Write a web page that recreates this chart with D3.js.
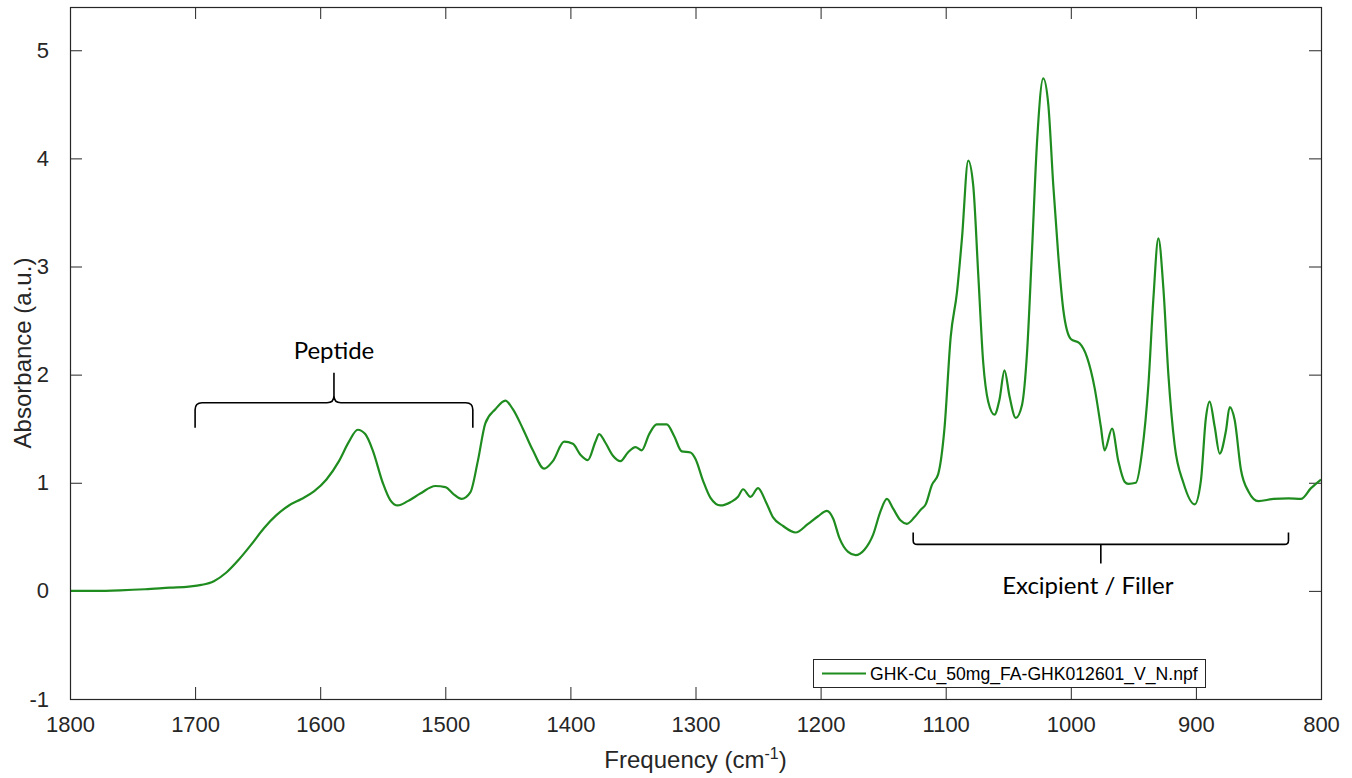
<!DOCTYPE html>
<html>
<head>
<meta charset="utf-8">
<script src="https://cdn.jsdelivr.net/npm/d3@7"></script>
<style>
  body { margin: 0; background: #fff; }
  .tick text { font-family: "Liberation Sans", Arial, sans-serif; font-size: 22px; fill: #262626; }
  .note { font-family: Lato, "Open Sans", sans-serif; font-size: 24px; fill: #000; }
</style>
</head>
<body>
<div id="chart"></div>
<script>
// spectrum (wavenumber, absorbance)
var freq = [1800, 1780, 1760, 1740, 1720, 1705, 1695, 1685, 1675, 1665, 1655, 1645, 1635, 1625, 1615, 1605,
  1595, 1585, 1577, 1570, 1564, 1558, 1550, 1544, 1538, 1530, 1520, 1508, 1500, 1493, 1487, 1480,
  1474, 1468, 1460, 1452, 1446, 1438, 1430, 1421, 1414, 1405, 1398, 1392, 1386, 1380, 1377, 1372,
  1366, 1360, 1354, 1348, 1343, 1337, 1331, 1323, 1317, 1311, 1304, 1300, 1294, 1288, 1280, 1272,
  1266, 1262, 1256, 1250, 1244, 1238, 1230, 1220, 1210, 1202, 1195, 1190, 1185, 1178, 1172, 1165,
  1158, 1152, 1147, 1142, 1136, 1131, 1125, 1120, 1116, 1111, 1106, 1101, 1096, 1091, 1087, 1082,
  1078, 1074, 1070, 1066, 1061, 1057, 1053, 1049, 1044, 1039, 1035, 1031, 1027, 1022, 1018, 1014,
  1010, 1006, 1000, 993, 987, 981, 976, 973, 967, 962, 957, 954, 948, 943, 938, 934,
  930, 926, 922, 917, 910, 901, 896, 892, 889, 885, 881, 876, 873, 869, 864, 858,
  850, 838, 826, 816, 808, 800];
var absorb = [0.00, 0.00, 0.005, 0.015, 0.03, 0.04, 0.055, 0.09, 0.17, 0.29, 0.43, 0.58, 0.70, 0.79, 0.85, 0.92,
  1.03, 1.20, 1.38, 1.49, 1.45, 1.30, 1.00, 0.84, 0.79, 0.83, 0.90, 0.97, 0.96, 0.89, 0.85, 0.91,
  1.20, 1.55, 1.68, 1.76, 1.68, 1.50, 1.30, 1.13, 1.20, 1.38, 1.36, 1.26, 1.21, 1.38, 1.45, 1.37,
  1.25, 1.20, 1.28, 1.33, 1.30, 1.45, 1.54, 1.54, 1.43, 1.29, 1.28, 1.22, 1.02, 0.86, 0.79, 0.82,
  0.87, 0.94, 0.87, 0.95, 0.83, 0.68, 0.60, 0.54, 0.62, 0.69, 0.74, 0.67, 0.49, 0.36, 0.33, 0.38,
  0.52, 0.74, 0.85, 0.76, 0.65, 0.62, 0.68, 0.75, 0.80, 0.98, 1.08, 1.50, 2.35, 2.76, 3.26, 3.98,
  3.75, 2.93, 2.11, 1.75, 1.63, 1.77, 2.04, 1.80, 1.60, 1.72, 2.20, 3.15, 4.15, 4.74, 4.50, 3.75,
  3.10, 2.60, 2.33, 2.29, 2.16, 1.88, 1.52, 1.30, 1.50, 1.20, 1.01, 0.99, 1.00, 1.29, 1.90, 2.70,
  3.26, 2.80, 2.00, 1.35, 1.00, 0.80, 1.02, 1.60, 1.75, 1.52, 1.27, 1.48, 1.70, 1.58, 1.12, 0.92,
  0.83, 0.85, 0.855, 0.85, 0.95, 1.03];
var xTicks = [1800, 1700, 1600, 1500, 1400, 1300, 1200, 1100, 1000, 900, 800];
var yTicks = [-1, 0, 1, 2, 3, 4, 5];
var seriesName = "GHK-Cu_50mg_FA-GHK012601_V_N.npf";
// brace annotations
var braces = [
  { from: 1700, to: 1478, label: "Peptide", level: 1.74, up: true },
  { from: 1126, to: 826, label: "Excipient / Filler", level: 0.43, up: false }
];

var W = 1352, H = 778;
var margin = { top: 7, right: 31, bottom: 79, left: 70 };

var svg = d3.select("#chart").append("svg")
  .attr("width", W)
  .attr("height", H);

var x = d3.scaleLinear().domain([1800, 800]).range([margin.left, W - margin.right]);
var y = d3.scaleLinear().domain([-1, 5.4]).range([H - margin.bottom, margin.top]);

var axisColor = "#262626";

// axes: inward ticks on all four sides like matlab's box
function styleAxis(g) {
  g.select(".domain").remove();
  g.selectAll(".tick line").attr("stroke", axisColor);
}

svg.append("g")
  .attr("transform", "translate(0," + y.range()[0] + ")")
  .call(d3.axisBottom(x).tickValues(xTicks).tickSizeInner(-12).tickPadding(17).tickFormat(String))
  .call(styleAxis);
svg.append("g")
  .attr("transform", "translate(0," + margin.top + ")")
  .call(d3.axisTop(x).tickValues(xTicks).tickSizeInner(-12).tickFormat(""))
  .call(styleAxis);
svg.append("g")
  .attr("transform", "translate(" + margin.left + ",0)")
  .call(d3.axisLeft(y).tickValues(yTicks).tickSizeInner(-12).tickPadding(21).tickFormat(String))
  .call(styleAxis);
svg.append("g")
  .attr("transform", "translate(" + (W - margin.right) + ",0)")
  .call(d3.axisRight(y).tickValues(yTicks).tickSizeInner(-12).tickFormat(""))
  .call(styleAxis);

// the curve
var pts = freq.map(function (f, i) { return [f, absorb[i]]; });
var line = d3.line()
  .x(function (d) { return x(d[0]); })
  .y(function (d) { return y(d[1]); })
  .curve(d3.curveMonotoneX);

svg.append("defs").append("clipPath").attr("id", "clip")
  .append("rect")
  .attr("x", margin.left).attr("y", margin.top)
  .attr("width", x.range()[1] - margin.left)
  .attr("height", y.range()[0] - margin.top);

svg.append("path")
  .datum(pts)
  .attr("clip-path", "url(#clip)")
  .attr("fill", "none")
  .attr("stroke", "#1f8c1f")
  .attr("stroke-width", 2.2)
  .attr("stroke-linejoin", "round")
  .attr("d", line);

// box
svg.append("rect")
  .attr("x", margin.left + 0.5)
  .attr("y", margin.top + 0.5)
  .attr("width", x.range()[1] - margin.left)
  .attr("height", y.range()[0] - margin.top)
  .attr("fill", "none")
  .attr("stroke", axisColor)
  .attr("stroke-width", 1.2);

// braces
braces.forEach(function (b) {
  var x0 = x(b.from), x1 = x(b.to), xm = (x0 + x1) / 2;
  var yl = y(b.level), r = 7, p;
  if (b.up) {
    p = "M" + x0 + "," + (yl + 25) +
      " V" + (yl + r) + " Q" + x0 + "," + yl + " " + (x0 + r) + "," + yl +
      " H" + (xm - r) + " Q" + xm + "," + yl + " " + xm + "," + (yl - r) +
      " V" + (yl - 30) +
      " M" + xm + "," + (yl - r) + " Q" + xm + "," + yl + " " + (xm + r) + "," + yl +
      " H" + (x1 - r) + " Q" + x1 + "," + yl + " " + x1 + "," + (yl + r) +
      " V" + (yl + 25);
  } else {
    // excipient brace is a bit shallower
    p = "M" + x0 + "," + (yl - 12) + " V" + (yl - 4) + " Q" + x0 + "," + yl + " " + (x0 + 4) + "," + yl +
      " H" + (x1 - 4) + " Q" + x1 + "," + yl + " " + x1 + "," + (yl - 4) + " V" + (yl - 12) +
      " M" + xm + "," + yl + " V" + (yl + 19);
  }
  svg.append("path")
    .attr("d", p)
    .attr("fill", "none")
    .attr("stroke", "#000")
    .attr("stroke-width", 1.6);
  svg.append("text")
    .attr("class", "note")
    .attr("x", b.up ? xm : xm - 13)
    .attr("y", b.up ? yl - 44 : yl + 50)
    .attr("text-anchor", "middle")
    .text(b.label);
});

// legend
var lg = svg.append("g").attr("transform", "translate(813,659)");
lg.append("rect")
  .attr("x", 0.5).attr("y", 0.5)
  .attr("width", 392).attr("height", 28)
  .attr("fill", "#fff")
  .attr("stroke", axisColor)
  .attr("stroke-width", 1);
lg.append("line")
  .attr("x1", 9).attr("x2", 53)
  .attr("y1", 14.5).attr("y2", 14.5)
  .attr("stroke", "#1f8c1f")
  .attr("stroke-width", 2.2);
lg.append("text")
  .attr("x", 57).attr("y", 20.5)
  .style("font-family", "'Liberation Sans', Arial, sans-serif")
  .style("font-size", "17.6px")
  .attr("fill", "#000")
  .text(seriesName);

// axis titles
var xt = svg.append("text")
  .attr("x", (margin.left + x.range()[1]) / 2)
  .attr("y", 768)
  .attr("text-anchor", "middle")
  .style("font-family", "'Liberation Sans', Arial, sans-serif")
  .style("font-size", "24px")
  .attr("fill", axisColor);
xt.append("tspan").text("Frequency (cm");
xt.append("tspan").attr("dy", -9).style("font-size", "16px").text("-1");
xt.append("tspan").attr("dy", 9).text(")");

svg.append("text")
  .attr("transform", "translate(31," + ((margin.top + y.range()[0]) / 2) + ") rotate(-90)")
  .attr("text-anchor", "middle")
  .style("font-family", "'Liberation Sans', Arial, sans-serif")
  .style("font-size", "24px")
  .attr("fill", axisColor)
  .text("Absorbance (a.u.)");
</script>
</body>
</html>
